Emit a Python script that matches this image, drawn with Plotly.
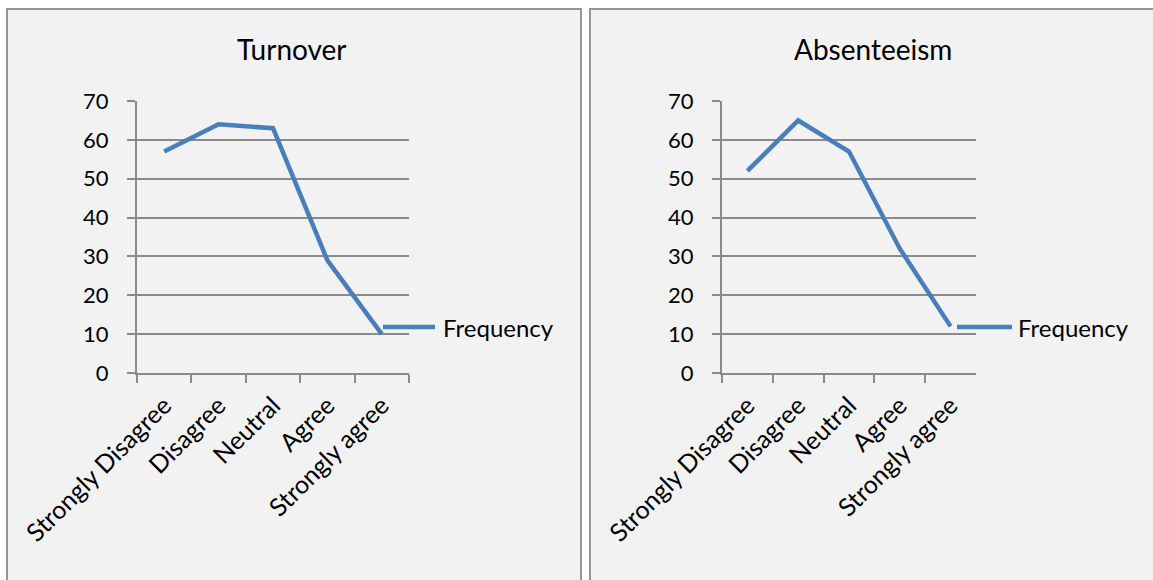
import plotly.graph_objects as go

# Survey response categories shared by both charts
categories = ["Strongly Disagree", "Disagree", "Neutral", "Agree", "Strongly agree"]

# Frequency of responses per category
turnover_freq = [57, 64, 63, 29, 10]
absenteeism_freq = [52, 65, 57, 32, 12]

y_ticks = [0, 10, 20, 30, 40, 50, 60, 70]

W, H = 1153, 580
FONT = "Lato, 'Open Sans', sans-serif"
LINE_BLUE = "#4a7ebb"
GRID = "#8a8a8a"
PANEL_BG = "#f2f2f2"


def px_x(x):
    return x / W


def px_y(y):
    return 1 - y / H


fig = go.Figure()

fig.add_trace(go.Scatter(
    x=categories, y=turnover_freq, mode="lines", name="Frequency",
    line=dict(color=LINE_BLUE, width=4.5), xaxis="x", yaxis="y",
    showlegend=False,
))
fig.add_trace(go.Scatter(
    x=categories, y=absenteeism_freq, mode="lines", name="Frequency",
    line=dict(color=LINE_BLUE, width=4.5), xaxis="x2", yaxis="y2",
    showlegend=False,
))

xaxis_common = dict(
    type="category", range=[-0.5, 4.5], tickson="boundaries",
    showline=True, linecolor=GRID, linewidth=2,
    ticks="outside", ticklen=8, tickwidth=2, tickcolor=GRID,
    tickangle=-45, showgrid=False, zeroline=False, automargin=False,
    tickfont=dict(family=FONT, size=25, color="black"),
    ticklabelstandoff=6, fixedrange=True,
)
yaxis_common = dict(
    range=[0, 70.01], tickvals=y_ticks, ticktext=[str(v) for v in y_ticks],
    showline=True, linecolor=GRID, linewidth=2,
    ticks="outside", ticklen=8, tickwidth=2, tickcolor=GRID,
    showgrid=True, gridcolor=GRID, gridwidth=2, zeroline=False,
    automargin=False,
    tickfont=dict(family=FONT, size=22, color="black"),
    ticklabelstandoff=14, fixedrange=True,
)

plot_top, plot_bottom = 101, 373
fig.update_layout(
    template="none",
    width=W, height=H,
    margin=dict(l=0, r=0, t=0, b=0, pad=0),
    paper_bgcolor="white",
    plot_bgcolor="white",
    showlegend=False,
    xaxis=dict(domain=[px_x(137), px_x(409)], anchor="y", **xaxis_common),
    yaxis=dict(domain=[px_y(plot_bottom), px_y(plot_top)], anchor="x", **yaxis_common),
    xaxis2=dict(domain=[px_x(722), px_x(976)], anchor="y2", **xaxis_common),
    yaxis2=dict(domain=[px_y(plot_bottom), px_y(plot_top)], anchor="x2", **yaxis_common),
)

shapes = []
# Chart panels (grey background with border)
for x0, x1 in [(7, 581), (590, 1165)]:
    shapes.append(dict(
        type="rect", xref="paper", yref="paper", layer="below",
        x0=px_x(x0), x1=px_x(x1), y0=px_y(600), y1=px_y(9),
        fillcolor=PANEL_BG, line=dict(color="#959595", width=2),
    ))

# Legend keys
legend_items = [(383, 435, 441, 327), (957, 1012, 1016, 327)]
annotations = []
for lx0, lx1, tx, ly in legend_items:
    shapes.append(dict(
        type="line", xref="paper", yref="paper", layer="above",
        x0=px_x(lx0), x1=px_x(lx1), y0=px_y(ly), y1=px_y(ly),
        line=dict(color=LINE_BLUE, width=4.5),
    ))
    annotations.append(dict(
        text="Frequency", xref="paper", yref="paper",
        x=px_x(tx), y=px_y(ly), xanchor="left", yanchor="middle",
        showarrow=False, font=dict(family=FONT, size=24, color="black"),
    ))

# Chart titles
for title, cx in [("Turnover", 292), ("Absenteeism", 873)]:
    annotations.append(dict(
        text=title, xref="paper", yref="paper",
        x=px_x(cx), y=px_y(49), xanchor="center", yanchor="middle",
        showarrow=False, font=dict(family=FONT, size=28, color="black"),
    ))

fig.update_layout(shapes=shapes, annotations=annotations)

fig.write_html("out.html")
